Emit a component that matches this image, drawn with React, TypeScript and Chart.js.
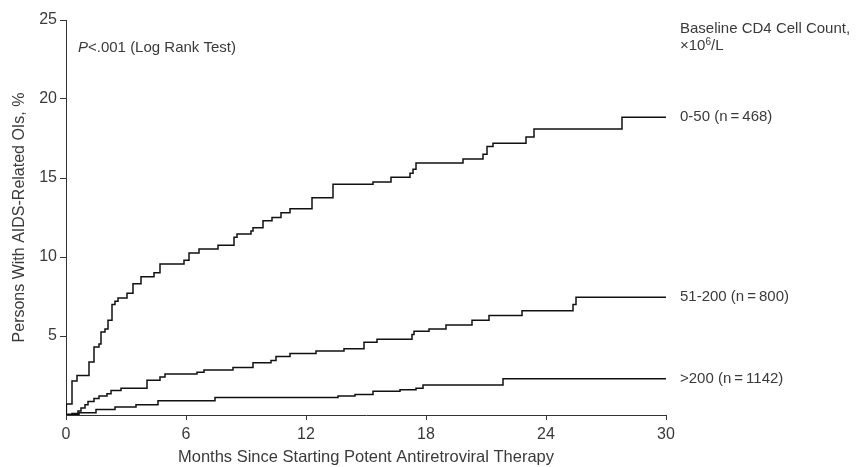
import React, { useEffect, useRef } from "react";
import { Chart, registerables } from "chart.js";

Chart.register(...registerables);

// 0-50 cells group
const months050 = [0, 0.02, 0.3, 0.55, 1.15, 1.4, 1.65, 1.75, 1.95, 2.1, 2.3, 2.45, 2.6, 3.05, 3.35, 3.75, 4.4, 4.7, 5.9, 6.15, 6.65, 7.6, 8.4, 8.55, 9.25, 9.35, 9.85, 10.3, 10.75, 11.2, 12.3, 13.35, 15.35, 16.25, 17.2, 17.35, 17.5, 19.85, 20.85, 21.05, 21.35, 23.0, 23.4, 27.8, 30];
const pct050 = [0, 0.7, 2.15, 2.5, 3.35, 4.3, 4.5, 5.25, 5.45, 6.0, 7.0, 7.2, 7.4, 7.7, 8.3, 8.75, 9.0, 9.55, 9.8, 10.25, 10.5, 10.75, 11.25, 11.45, 11.65, 11.85, 12.3, 12.5, 12.8, 13.05, 13.75, 14.6, 14.75, 15.05, 15.3, 15.55, 15.95, 16.2, 16.5, 17.0, 17.2, 17.6, 18.1, 18.85, 18.85];

// 51-200 cells group
const months51200 = [0, 0.3, 0.6, 0.75, 0.95, 1.1, 1.4, 1.65, 2.05, 2.25, 2.75, 4.05, 4.7, 4.95, 6.55, 6.9, 8.35, 9.35, 10.25, 10.5, 11.2, 12.5, 13.9, 14.9, 15.55, 17.3, 17.4, 18.15, 19.0, 20.3, 21.15, 22.8, 25.35, 25.5, 30];
const pct51200 = [0, 0.1, 0.25, 0.45, 0.65, 0.85, 1.05, 1.2, 1.35, 1.55, 1.7, 2.2, 2.4, 2.6, 2.7, 2.85, 3.0, 3.3, 3.45, 3.7, 3.9, 4.05, 4.2, 4.6, 4.8, 5.1, 5.3, 5.45, 5.7, 6.0, 6.3, 6.6, 7.0, 7.45, 7.45];

// >200 cells group
const monthsOver200 = [0, 0.1, 0.65, 1.5, 2.45, 3.5, 4.6, 7.45, 13.6, 14.45, 15.35, 16.7, 17.5, 17.85, 21.85, 30];
const pctOver200 = [0, 0.05, 0.15, 0.35, 0.5, 0.65, 0.9, 1.1, 1.2, 1.3, 1.5, 1.6, 1.7, 1.9, 2.3, 2.3];

const seriesLabels = ["0-50 (n\u2009=\u2009468)", "51-200 (n\u2009=\u2009800)", ">200 (n\u2009=\u20091142)"];
const xTicks = [0, 6, 12, 18, 24, 30];
const yTicks = [5, 10, 15, 20, 25];

const FONT = "'Liberation Sans', Arial, sans-serif";
const TEXT = "#3a3a3a";

const toPoints = (xs: number[], ys: number[]) => xs.map((x, i) => ({ x, y: ys[i] }));

const annotPlugin = {
  id: "annot",
  afterDraw(chart: any) {
    const ctx = chart.ctx;
    const area = chart.chartArea;
    const ys = chart.scales.y;
    ctx.save();
    ctx.fillStyle = TEXT;
    ctx.textBaseline = "middle";
    ctx.textAlign = "left";
    // P value
    const px = area.left + 12;
    const py = area.top + 28;
    ctx.font = `italic 15px ${FONT}`;
    ctx.fillText("P", px, py);
    const pw = ctx.measureText("P").width;
    ctx.font = `15px ${FONT}`;
    ctx.fillText("<.001 (Log Rank Test)", px + pw, py);
    // legend title
    const lx = area.right + 14;
    ctx.fillText("Baseline CD4 Cell Count,", lx, area.top + 9);
    const ly2 = area.top + 26;
    ctx.fillText("\u00d710", lx, ly2);
    const w1 = ctx.measureText("\u00d710").width;
    ctx.font = `10px ${FONT}`;
    ctx.fillText("6", lx + w1, ly2 - 4);
    const w2 = ctx.measureText("6").width;
    ctx.font = `15px ${FONT}`;
    ctx.fillText("/L", lx + w1 + w2, ly2);
    // series labels
    chart.data.datasets.forEach((ds: any, i: number) => {
      const last = ds.data[ds.data.length - 1].y;
      ctx.fillText(seriesLabels[i], lx, ys.getPixelForValue(last));
    });
    ctx.restore();
  },
};

export default function App() {
  const ref = useRef<HTMLCanvasElement | null>(null);
  useEffect(() => {
    if (!ref.current) return;
    const chart = new Chart(ref.current, {
      type: "line",
      data: {
        datasets: [
          { data: toPoints(months050, pct050) },
          { data: toPoints(months51200, pct51200) },
          { data: toPoints(monthsOver200, pctOver200) },
        ].map((d) => ({
          ...d,
          stepped: true,
          borderColor: "#111111",
          borderWidth: 1.5,
          pointRadius: 0,
          fill: false,
        })),
      } as any,
      options: {
        responsive: false,
        animation: false,
        layout: { padding: { left: 0, right: 192, top: 20, bottom: 0 } },
        plugins: { legend: { display: false }, tooltip: { enabled: false } },
        scales: {
          x: {
            type: "linear",
            min: 0,
            max: 30,
            afterFit: (s: any) => { s.height = 52; },
            afterBuildTicks: (s: any) => { s.ticks = xTicks.map((v) => ({ value: v })); },
            ticks: { color: TEXT, font: { family: FONT, size: 16 }, padding: 5, maxRotation: 0 },
            grid: { drawOnChartArea: false, drawTicks: true, tickLength: 5, color: "#333333" },
            border: { display: true, color: "#333333", width: 1 },
            title: {
              display: true,
              text: "Months Since Starting Potent Antiretroviral Therapy",
              color: TEXT,
              font: { family: FONT, size: 16.5 },
              padding: { top: 4, bottom: 0 },
            },
          },
          y: {
            type: "linear",
            min: 0,
            max: 25,
            afterFit: (s: any) => { s.width = 66; },
            afterBuildTicks: (s: any) => { s.ticks = yTicks.map((v) => ({ value: v })); },
            ticks: { color: TEXT, font: { family: FONT, size: 16 }, padding: 3 },
            grid: { drawOnChartArea: false, drawTicks: true, tickLength: 6, color: "#333333" },
            border: { display: true, color: "#333333", width: 1 },
            title: {
              display: true,
              text: "Persons With AIDS-Related OIs, %",
              color: TEXT,
              font: { family: FONT, size: 16 },
              padding: { top: 10, bottom: 0 },
            },
          },
        },
      } as any,
      plugins: [annotPlugin],
    });
    return () => chart.destroy();
  }, []);
  return (
    <div style={{ position: "absolute", left: 0, top: 0, width: 858, height: 467, background: "#fff" }}>
      <canvas ref={ref} width={858} height={467} style={{ display: "block" }} />
    </div>
  );
}
